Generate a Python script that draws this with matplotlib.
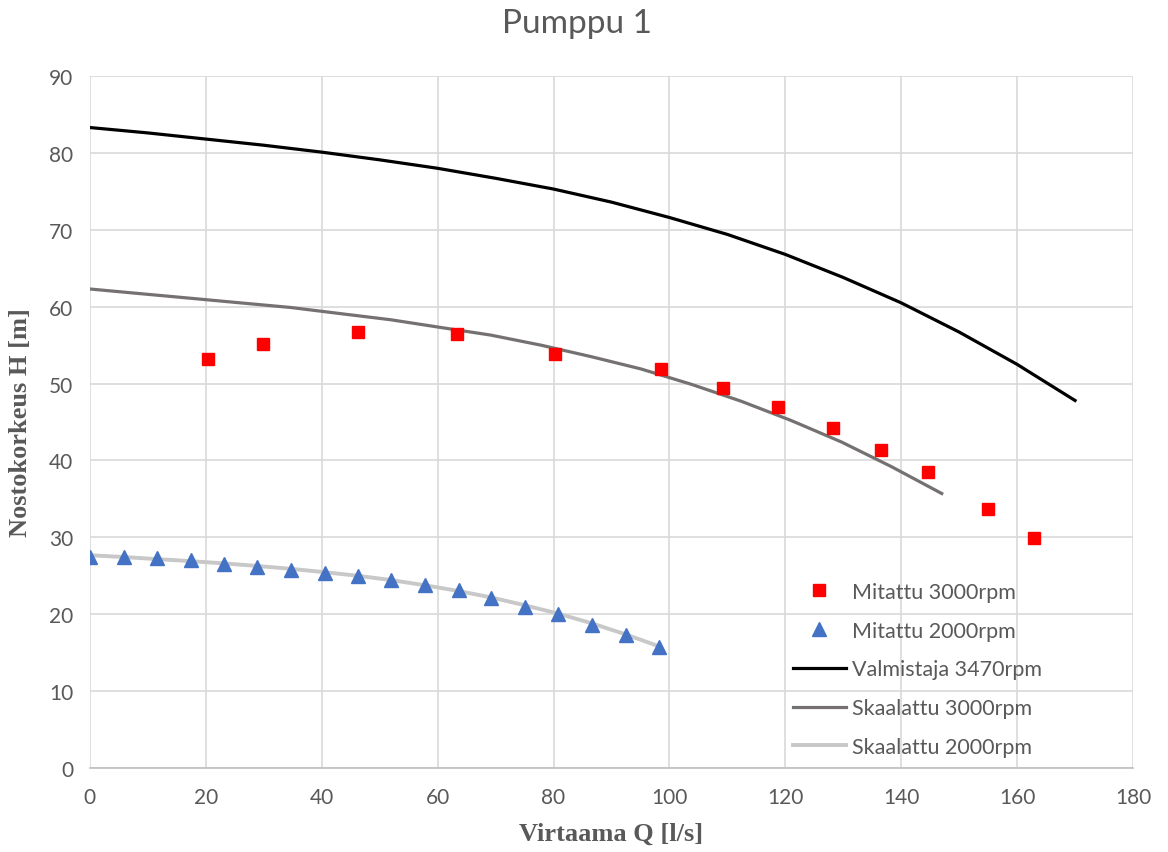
import numpy as np
import matplotlib.pyplot as plt

# measured points, 3000 rpm
q_m3000 = [20.4, 29.9, 46.2, 63.3, 80.2, 98.5, 109.3, 118.7, 128.2, 136.6, 144.6, 155.0, 162.9]
h_m3000 = [53.2, 55.2, 56.7, 56.5, 53.8, 51.9, 49.4, 46.9, 44.2, 41.4, 38.5, 33.7, 29.9]

# measured points, 2000 rpm
q_m2000 = [0.0, 5.8, 11.6, 17.4, 23.1, 28.9, 34.7, 40.5, 46.3, 52.0, 57.8, 63.7, 69.2, 75.0, 80.8, 86.6, 92.5, 98.2]
h_m2000 = [27.4, 27.4, 27.3, 27.0, 26.5, 26.1, 25.7, 25.4, 25.0, 24.5, 23.8, 23.2, 22.1, 21.0, 20.0, 18.6, 17.3, 15.7]

# manufacturer curve 3470 rpm
q_valm = [0, 10, 20, 30, 40, 50, 60, 70, 80, 90, 100, 110, 120, 130, 140, 150, 160, 170]
h_valm = [83.3, 82.6, 81.8, 81.0, 80.1, 79.1, 78.0, 76.7, 75.3, 73.6, 71.6, 69.4, 66.8, 63.8, 60.5, 56.7, 52.5, 47.8]

# scaled curves
q_sk3000 = [0.0, 8.6, 17.3, 25.9, 34.6, 43.2, 51.9, 60.5, 69.2, 77.8, 86.5, 95.1, 103.8, 112.4, 121.0, 129.7, 138.3, 147.0]
h_sk3000 = [62.3, 61.7, 61.1, 60.5, 59.9, 59.1, 58.3, 57.3, 56.3, 55.0, 53.5, 51.9, 49.9, 47.7, 45.2, 42.4, 39.2, 35.7]

q_sk2000 = [0.0, 5.8, 11.5, 17.3, 23.1, 28.8, 34.6, 40.3, 46.1, 51.9, 57.6, 63.4, 69.2, 74.9, 80.7, 86.5, 92.2, 98.0]
h_sk2000 = [27.67, 27.44, 27.17, 26.91, 26.61, 26.28, 25.91, 25.48, 25.01, 24.45, 23.79, 23.05, 22.19, 21.19, 20.10, 18.84, 17.44, 15.88]

txt = '#595959'
plt.rcParams['font.family'] = ['Lato', 'DejaVu Sans']

fig = plt.figure(figsize=(11.68, 8.53), dpi=100)
ax = fig.add_axes([0.077, 0.0985, 0.893, 0.8112])

ax.plot(q_m3000, h_m3000, 's', color='#ff0000', markersize=9, label='Mitattu 3000rpm', zorder=5)
ax.plot(q_m2000, h_m2000, '^', color='#4472c4', markersize=10, label='Mitattu 2000rpm', zorder=5)
ax.plot(q_valm, h_valm, color='black', linewidth=2.3, label='Valmistaja 3470rpm', zorder=4)
ax.plot(q_sk3000, h_sk3000, color='#767171', linewidth=2.3, label='Skaalattu 3000rpm', zorder=4)
ax.plot(q_sk2000, h_sk2000, color='#c8c8c8', linewidth=2.8, label='Skaalattu 2000rpm', zorder=4)

ax.set_xlim(0, 180)
ax.set_ylim(0, 90)
ax.set_xticks(np.arange(0, 181, 20))
ax.set_yticks(np.arange(0, 91, 10))
ax.grid(True, color='#d9d9d9', linewidth=1.2)
ax.set_axisbelow(True)
for s in ['top', 'right', 'left']:
    ax.spines[s].set_visible(False)
ax.spines['bottom'].set_color('#bfbfbf')
ax.spines['bottom'].set_linewidth(1.2)
ax.tick_params(length=0, labelsize=15, labelcolor=txt)
ax.tick_params(axis='x', pad=14)
ax.tick_params(axis='y', pad=12)

ax.set_xlabel('Virtaama Q [l/s]', family='Liberation Serif', fontweight='bold',
              fontsize=19, color=txt, labelpad=10)
ax.set_ylabel('Nostokorkeus H [m]', family='Liberation Serif', fontweight='bold',
              fontsize=19, color=txt, labelpad=12)
fig.suptitle('Pumppu 1', x=0.494, y=0.99, fontsize=24, color=txt)

leg = ax.legend(loc='lower left', bbox_to_anchor=(0.674, 0.016), frameon=False,
                fontsize=15.5, labelspacing=0.87, handlelength=2.45, handletextpad=0.28,
                borderpad=0, borderaxespad=0)
for t in leg.get_texts():
    t.set_color(txt)

fig.savefig('out.png', dpi=100)
